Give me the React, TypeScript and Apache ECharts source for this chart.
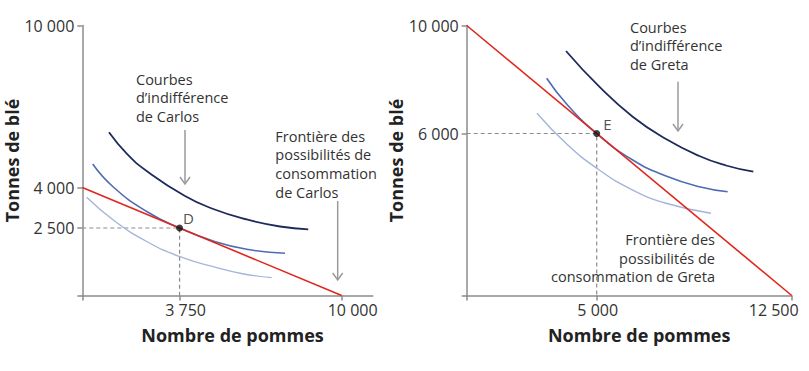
import React, { useEffect, useRef } from "react";
import * as echarts from "echarts";

// ---------- data ----------
const carlosXTicks = [3750, 10000];
const carlosYTicks = [2500, 4000, 10000];
const gretaXTicks = [5000, 12500];
const gretaYTicks = [6000, 10000];

const carlosFrontier = [[0, 4000], [10000, 0]];
const carlosLow = [[170, 3637], [1195, 2796], [2483, 2000], [3766, 1437], [5050, 1067], [6175, 807], [7301, 663]];
const carlosMid = [[401, 4870], [1195, 4019], [2483, 3111], [3750, 2500], [5050, 2019], [6338, 1711], [7814, 1563]];
const carlosHigh = [[1029, 6044], [1723, 5241], [2483, 4611], [3959, 3685], [5050, 3204], [6338, 2815], [7621, 2556], [8712, 2452]];
const carlosPoint = [3750, 2500];

const gretaFrontier = [[0, 10000], [12500, 0]];
const gretaLow = [[2704, 6748], [3819, 5637], [5100, 4648], [6385, 3907], [7665, 3415], [9396, 3044]];
const gretaMid = [[3077, 8044], [3819, 7119], [5000, 6000], [6385, 5019], [7665, 4426], [8946, 4030], [10038, 3844]];
const gretaHigh = [[3819, 9056], [5100, 7733], [6385, 6622], [7665, 5796], [8946, 5167], [9973, 4815], [11023, 4585]];
const gretaPoint = [5000, 6000];

// ---------- styles ----------
const FONT = "'Open Sans', 'DejaVu Sans', sans-serif";
const TEXT = "#333333";
const AXIS = "#8c8c8c";
const ARROW = "#9a9a9a";
const RED = "#e0261c";
const NAVY = "#1d2a5c";
const MID = "#4d6cb5";
const LIGHT = "#a5b4da";

const fmt = (v: number) => String(v).replace(/\B(?=(\d{3})+(?!\d))/g, " ");

const carlosXShift: Record<number, number> = { 3750: 6, 10000: 11 };
const gretaXShift: Record<number, number> = { 5000: 1, 12500: -18 };

function shiftedLabel(shift: Record<number, number>, ticks: number[]) {
  const rich: Record<string, any> = {};
  const keyOf = (s: number) => (s >= 0 ? `p${s}` : `m${-s}`);
  ticks.forEach((t) => {
    const s = shift[t] ?? 0;
    rich[keyOf(s)] = {
      fontSize: 16,
      fontFamily: FONT,
      color: TEXT,
      padding: s >= 0 ? [0, 0, 0, 2 * s] : [0, -2 * s, 0, 0],
    };
  });
  return {
    customValues: ticks,
    formatter: (v: number) => `{${keyOf(shift[v] ?? 0)}|${fmt(v)}}`,
    rich,
    fontSize: 16,
    fontFamily: FONT,
    color: TEXT,
    margin: 6,
  };
}

const axisLine = { show: true, onZero: false, lineStyle: { color: AXIS, width: 1.5 } };
const nameStyle = { fontSize: 18, fontWeight: "bold", fontFamily: FONT, color: "#222222" };

function xAxis(gridIndex: number, max: number, ticks: number[], shift: Record<number, number>, namePad: number) {
  return {
    gridIndex,
    type: "value",
    min: 0,
    max,
    axisLine,
    axisTick: { show: true, customValues: [0, ...ticks], length: 5, lineStyle: { color: AXIS, width: 1.5 } },
    axisLabel: shiftedLabel(shift, ticks),
    splitLine: { show: false },
    name: "Nombre de pommes",
    nameLocation: "middle",
    nameGap: 30,
    nameTextStyle: { ...nameStyle, padding: [0, 0, 0, namePad] },
  };
}

function yAxis(gridIndex: number, ticks: number[]) {
  return {
    gridIndex,
    type: "value",
    min: 0,
    max: 10000,
    axisLine,
    axisTick: { show: true, customValues: [0, ...ticks], length: 5, lineStyle: { color: AXIS, width: 1.5 } },
    axisLabel: {
      customValues: ticks,
      formatter: (v: number) => fmt(v),
      fontSize: 16,
      fontFamily: FONT,
      color: TEXT,
      margin: 8,
    },
    splitLine: { show: false },
    name: "Tonnes de blé",
    nameLocation: "middle",
    nameGap: 58,
    nameTextStyle: nameStyle,
  };
}

function curve(idx: number, data: number[][], color: string, width: number) {
  return {
    type: "line",
    xAxisIndex: idx,
    yAxisIndex: idx,
    data,
    smooth: 0.5,
    showSymbol: false,
    symbol: "none",
    lineStyle: { color, width },
    silent: true,
  };
}

function guide(idx: number, p: number[]) {
  return {
    type: "line",
    xAxisIndex: idx,
    yAxisIndex: idx,
    data: [[0, p[1]], [p[0], p[1]], [p[0], 0]],
    showSymbol: false,
    symbol: "none",
    lineStyle: { color: AXIS, width: 1.2, type: [4, 3] },
    silent: true,
  };
}

function point(idx: number, p: number[], label: string, off: number[]) {
  return {
    type: "scatter",
    xAxisIndex: idx,
    yAxisIndex: idx,
    data: [p],
    symbolSize: 7,
    itemStyle: { color: "#111111" },
    label: {
      show: true,
      formatter: label,
      position: "right",
      distance: 0,
      offset: off,
      fontSize: 15,
      fontFamily: FONT,
      color: "#222222",
    },
    silent: true,
    z: 5,
  };
}

function arrow(x: number, y1: number, y2: number) {
  return [
    { type: "line", shape: { x1: x, y1, x2: x, y2 }, style: { stroke: ARROW, lineWidth: 1.5 } },
    {
      type: "polyline",
      shape: { points: [[x - 5, y2 - 7], [x, y2], [x + 5, y2 - 7]] },
      style: { stroke: ARROW, lineWidth: 1.5, fill: null },
    },
  ];
}

function note(x: number, y: number, text: string, lh: number, align: string = "left") {
  return {
    type: "text",
    x,
    y,
    style: {
      text,
      fontSize: 14.5,
      fontFamily: FONT,
      fill: TEXT,
      lineHeight: lh,
      align,
      verticalAlign: "top",
    },
  };
}

export default function App() {
  const ref = useRef<HTMLDivElement>(null);
  useEffect(() => {
    if (!ref.current) return;
    const chart = echarts.init(ref.current, undefined, { renderer: "svg" });
    chart.setOption({
      animation: false,
      backgroundColor: "#ffffff",
      grid: [
        { left: 82.3, top: 25.5, width: 290.5, height: 270 },
        { left: 466.7, top: 25.5, width: 325, height: 270 },
      ],
      xAxis: [
        xAxis(0, 11200, carlosXTicks, carlosXShift, 10),
        xAxis(1, 12500, gretaXTicks, gretaXShift, 20),
      ],
      yAxis: [yAxis(0, carlosYTicks), yAxis(1, gretaYTicks)],
      series: [
        guide(0, carlosPoint),
        curve(0, carlosLow, LIGHT, 1.4),
        curve(0, carlosMid, MID, 1.6),
        curve(0, carlosHigh, NAVY, 1.8),
        { ...curve(0, carlosFrontier, RED, 1.6), smooth: false },
        point(0, carlosPoint, "D", [0, -10]),
        guide(1, gretaPoint),
        curve(1, gretaLow, LIGHT, 1.4),
        curve(1, gretaMid, MID, 1.6),
        curve(1, gretaHigh, NAVY, 1.8),
        { ...curve(1, gretaFrontier, RED, 1.6), smooth: false },
        point(1, gretaPoint, "E", [3, -10]),
      ],
      graphic: [
        note(136, 69.8, "Courbes\nd’indifférence\nde Carlos", 18.5),
        note(275.3, 126.7, "Frontière des\npossibilités de\nconsommation\nde Carlos", 18.7),
        note(630, 18.5, "Courbes\nd’indifférence\nde Greta", 18.3),
        note(715, 230, "Frontière des\npossibilités de\nconsommation de Greta", 18.7, "right"),
        ...arrow(185, 130, 184),
        ...arrow(337.7, 201, 280),
        ...arrow(678, 81.7, 131),
      ],
    });
    return () => chart.dispose();
  }, []);
  return (
    <div
      ref={ref}
      style={{ position: "absolute", left: 0, top: 0, width: 809, height: 371, background: "#fff" }}
    />
  );
}
